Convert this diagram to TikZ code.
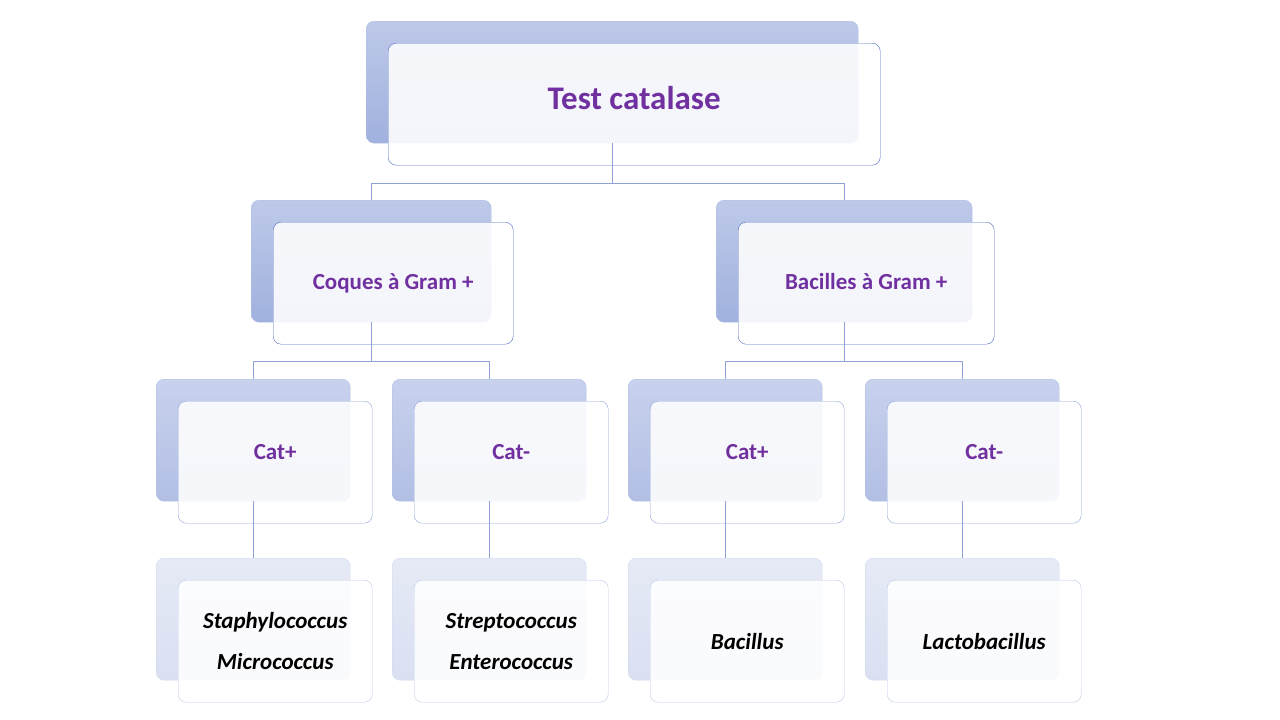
\documentclass[tikz,border=0pt]{standalone}
\usepackage{fontspec}
\setmainfont{Carlito}
\usetikzlibrary{calc}
\definecolor{purp}{HTML}{7030A0}
\definecolor{edge}{HTML}{4F6CC0}
\definecolor{ln}{HTML}{8FA3D8}
\tikzset{
 bk/.style={draw=ln!70, rounded corners=8pt, anchor=north west, inner sep=0pt},
 fr/.style={draw=#1, fill=white, fill opacity=0.88, rounded corners=8pt, anchor=north west, inner sep=0pt, align=center, text opacity=1},
 con/.style={draw=ln, line width=0.6pt},
}
\begin{document}
\begin{tikzpicture}[x=1pt,y=-1pt]
\useasboundingbox (0,0) rectangle (1280,720);
% top
\node[bk, top color={rgb,255:red,190;green,201;blue,233}, bottom color={rgb,255:red,160;green,177;blue,222}, minimum width=492pt, minimum height=122pt] (tb) at (366,21) {};
\node[fr=edge, minimum width=492pt, minimum height=122pt, font=\bfseries\fontsize{33}{38}\selectfont, text=purp] (t) at (388,43) {\raisebox{12pt}{Test catalase}};
% level 2
\foreach \n/\x/\w/\txt in {lb/251/240/{Coques à Gram +}, rb/716/256/{Bacilles à Gram +}}{
 \node[bk, top color={rgb,255:red,190;green,201;blue,233}, bottom color={rgb,255:red,160;green,177;blue,222}, minimum width=\w pt, minimum height=122pt] (\n) at (\x,200) {};
 \node[fr=edge, minimum width=\w pt, minimum height=122pt, font=\bfseries\fontsize{23}{28}\selectfont, text=purp] (\n f) at (\x+22,222) {\raisebox{4pt}{\txt}};
}
% level 3 and 4
\foreach \n/\x/\txt/\low in {a/156/{Cat+}/{Staphylococcus\\Micrococcus}, b/392/{Cat-}/{Streptococcus\\Enterococcus}, c/628/{Cat+}/{Bacillus}, d/865/{Cat-}/{Lactobacillus}}{
 \node[bk, top color={rgb,255:red,200;green,209;blue,237}, bottom color={rgb,255:red,178;green,191;blue,228}, minimum width=194pt, minimum height=122pt] (\n3) at (\x,379) {};
 \node[fr=ln, minimum width=194pt, minimum height=122pt, font=\bfseries\fontsize{23}{28}\selectfont, text=purp] (\n3f) at (\x+22,401) {\raisebox{20pt}{\txt}};
 \node[bk, draw=ln!40, top color={rgb,255:red,230;green,234;blue,246}, bottom color={rgb,255:red,218;green,224;blue,242}, minimum width=194pt, minimum height=122pt] (\n4) at (\x,558) {};
 \node[fr=ln!60, minimum width=194pt, minimum height=122pt, font=\bfseries\itshape\fontsize{23}{41}\selectfont, text=black] (\n4f) at (\x+22,580) {\low};
 \draw[con] (\n3.south) -- (\n4.north);
}
\draw[con] (tb.south) -- ++(0,40) -| (lb.north);
\draw[con] (tb.south) -- ++(0,40) -| (rb.north);
\draw[con] (lb.south) -- ++(0,39) -| (a3.north);
\draw[con] (lb.south) -- ++(0,39) -| (b3.north);
\draw[con] (rb.south) -- ++(0,39) -| (c3.north);
\draw[con] (rb.south) -- ++(0,39) -| (d3.north);
\end{tikzpicture}
\end{document}
